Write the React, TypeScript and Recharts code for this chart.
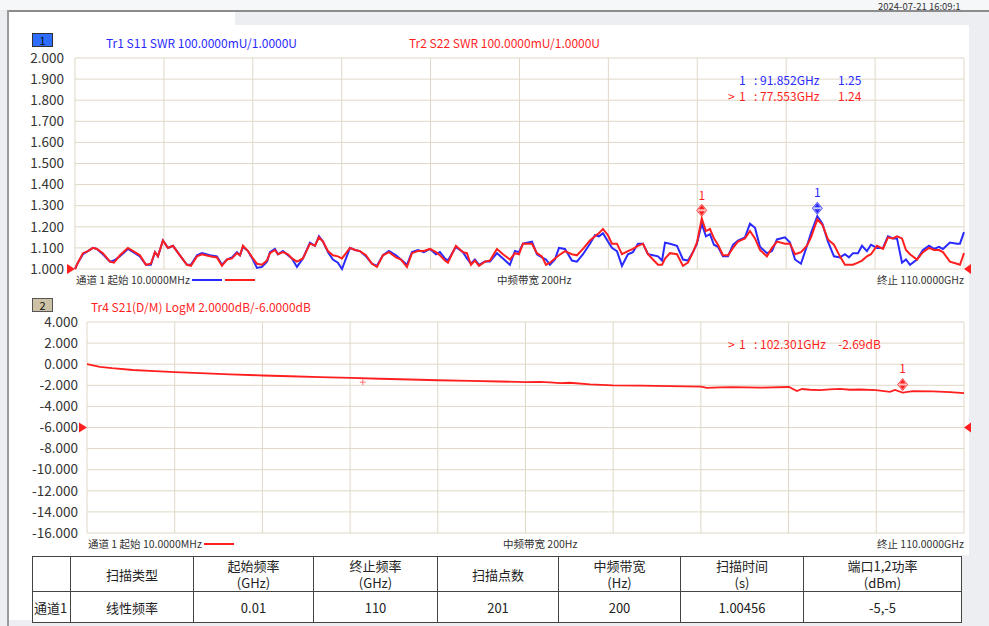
import { LineChart, Line, XAxis, YAxis, CartesianGrid, ReferenceDot } from "recharts";

const FONT = '"Noto Sans CJK SC", "Noto Sans", sans-serif';
const BLUE = "#2a2aff";
const RED = "#ff1f1f";
const GRID = "#e0d8c6";
const TEXT = "#333";

// SWR traces (Tr1 S11 blue, Tr2 S22 red), frequency in GHz
const swrFreq = [
    0.01, 0.37, 0.99, 1.61, 2.23, 2.72, 3.46, 4.33, 4.83, 5.57, 6.56, 7.42, 8.04, 8.79, 9.4, 9.9, 10.27, 10.89, 11.51, 12.13,
    12.99, 13.86, 14.35, 15.1, 15.71, 16.7, 17.57, 18.19, 18.81, 19.43, 20.04, 20.42, 20.79, 21.41, 22.02, 22.52, 23.14, 23.76, 24.13, 24.75,
    25.12, 25.74, 26.36, 26.85, 27.47, 28.21, 29.08, 29.7, 30.19, 30.69, 31.3, 31.92, 32.54, 33.04, 34.03, 34.65, 35.26, 36.01, 36.75, 37.37,
    38.11, 38.85, 39.72, 40.34, 41.08, 41.7, 42.44, 43.18, 43.93, 44.67, 45.16, 45.78, 46.15, 47.14, 48.01, 48.5, 49.0, 49.49, 49.99, 50.73,
    51.35, 52.21, 52.96, 53.82, 54.44, 54.94, 55.43, 56.55, 57.16, 57.78, 58.28, 58.77, 59.39, 59.89, 60.63, 61.49, 62.11, 62.86, 63.72, 64.34,
    64.84, 65.33, 65.95, 66.44, 67.06, 67.68, 68.42, 69.04, 69.66, 70.28, 70.9, 71.52, 72.14, 72.64, 73.01, 73.62, 74.49, 75.23, 75.85, 76.47,
    76.96, 77.553, 78.07, 78.57, 79.06, 79.56, 80.18, 80.8, 81.42, 82.03, 82.9, 83.52, 84.14, 84.76, 85.62, 86.24, 86.86, 87.85, 88.47, 89.09,
    89.83, 90.57, 91.07, 91.852, 92.48, 93.17, 93.91, 94.65, 95.27, 95.77, 96.26, 96.88, 97.38, 97.99, 98.49, 99.23, 99.98, 100.59, 101.21, 101.71,
    102.33, 102.82, 103.32, 104.18, 104.92, 105.67, 106.29, 106.9, 107.4, 108.26, 109.13, 109.5, 110.0,
];
const s22Swr = [
    1.0, 1.03, 1.075, 1.085, 1.1, 1.095, 1.075, 1.035, 1.03, 1.065, 1.1, 1.08, 1.065, 1.02, 1.025, 1.08, 1.06, 1.135, 1.1, 1.11,
    1.065, 1.02, 1.015, 1.06, 1.07, 1.06, 1.055, 1.015, 1.045, 1.05, 1.075, 1.065, 1.11, 1.085, 1.05, 1.025, 1.02, 1.04, 1.075, 1.09,
    1.07, 1.08, 1.07, 1.05, 1.035, 1.05, 1.12, 1.11, 1.15, 1.13, 1.085, 1.065, 1.06, 1.05, 1.1, 1.09, 1.085, 1.065, 1.025, 1.01,
    1.065, 1.08, 1.055, 1.045, 1.01, 1.075, 1.085, 1.085, 1.095, 1.08, 1.065, 1.04, 1.03, 1.11, 1.08, 1.075, 1.02, 1.04, 1.015, 1.035,
    1.04, 1.095, 1.07, 1.045, 1.075, 1.07, 1.12, 1.12, 1.075, 1.06, 1.02, 1.03, 1.05, 1.065, 1.085, 1.07, 1.065, 1.095, 1.135, 1.155,
    1.17, 1.19, 1.16, 1.12, 1.12, 1.07, 1.085, 1.095, 1.11, 1.12, 1.07, 1.045, 1.02, 1.02, 1.05, 1.075, 1.07, 1.015, 1.03, 1.08,
    1.125, 1.24, 1.18, 1.19, 1.145, 1.115, 1.065, 1.065, 1.1, 1.13, 1.145, 1.18, 1.145, 1.09, 1.06, 1.1, 1.13, 1.12, 1.12, 1.07,
    1.08, 1.11, 1.15, 1.235, 1.21, 1.14, 1.115, 1.06, 1.02, 1.02, 1.02, 1.03, 1.04, 1.06, 1.07, 1.11, 1.095, 1.15, 1.145, 1.155,
    1.145, 1.09, 1.07, 1.045, 1.08, 1.1, 1.09, 1.09, 1.08, 1.035, 1.025, 1.02, 1.075,
];
const s11Swr = [
    1.0, 1.03, 1.07, 1.085, 1.1, 1.095, 1.07, 1.035, 1.04, 1.06, 1.095, 1.075, 1.06, 1.02, 1.02, 1.08, 1.06, 1.135, 1.1, 1.11,
    1.065, 1.02, 1.02, 1.065, 1.075, 1.065, 1.06, 1.02, 1.045, 1.055, 1.08, 1.065, 1.105, 1.085, 1.045, 1.005, 1.01, 1.035, 1.08, 1.095,
    1.07, 1.085, 1.065, 1.05, 1.01, 1.05, 1.125, 1.11, 1.155, 1.13, 1.08, 1.045, 1.03, 1.0, 1.1, 1.09, 1.085, 1.06, 1.025, 1.015,
    1.065, 1.085, 1.065, 1.045, 1.02, 1.08, 1.09, 1.08, 1.095, 1.07, 1.08, 1.05, 1.04, 1.105, 1.08, 1.05, 1.025, 1.045, 1.02, 1.035,
    1.035, 1.075, 1.05, 1.02, 1.085, 1.08, 1.12, 1.13, 1.07, 1.055, 1.045, 1.02, 1.045, 1.1, 1.095, 1.04, 1.035, 1.07, 1.12, 1.16,
    1.155, 1.17, 1.13, 1.1, 1.085, 1.015, 1.07, 1.08, 1.12, 1.12, 1.07, 1.065, 1.06, 1.04, 1.125, 1.12, 1.11, 1.045, 1.04, 1.08,
    1.12, 1.215, 1.155, 1.165, 1.115, 1.105, 1.06, 1.06, 1.115, 1.135, 1.15, 1.215, 1.195, 1.105, 1.075, 1.085, 1.14, 1.15, 1.125, 1.045,
    1.025, 1.11, 1.17, 1.25, 1.215, 1.13, 1.06, 1.055, 1.07, 1.055, 1.075, 1.075, 1.11, 1.085, 1.115, 1.1, 1.1, 1.155, 1.145, 1.145,
    1.03, 1.045, 1.02, 1.045, 1.09, 1.11, 1.095, 1.105, 1.095, 1.125, 1.12, 1.12, 1.175,
];

// Tr4 S21 LogM, dB
const s21Freq = [
    0.01, 0.75, 1.63, 3.14, 5.77, 8.53, 11.04, 14.17, 17.94, 22.07, 25.46, 29.22, 33.11, 36.75, 40.51, 44.02, 48.04, 51.8, 55.06, 56.82,
    58.07, 59.33, 60.58, 63.09, 65.97, 69.36, 73.12, 77.01, 77.76, 79.39, 81.02, 84.41, 88.05, 89.05, 89.68, 90.68, 91.94, 93.19, 94.44, 95.7,
    96.95, 98.96, 100.72, 101.34, 102.301, 103.6, 106.11, 108.24, 110.0,
];
const s21Db = [
    0.0, -0.12, -0.25, -0.38, -0.55, -0.66, -0.76, -0.85, -0.96, -1.07, -1.14, -1.22, -1.3, -1.38, -1.45, -1.52, -1.58, -1.64, -1.7, -1.68,
    -1.72, -1.8, -1.76, -1.92, -2.0, -2.03, -2.08, -2.12, -2.24, -2.2, -2.18, -2.22, -2.16, -2.55, -2.35, -2.42, -2.45, -2.38, -2.34, -2.42,
    -2.4, -2.46, -2.62, -2.44, -2.69, -2.55, -2.58, -2.64, -2.74,
];

const freqTicks = [0.01, 11.01, 22.01, 33.01, 44.0, 55.0, 66.0, 77.0, 88.0, 99.0, 110.0];
const swrTicks = [1.0, 1.1, 1.2, 1.3, 1.4, 1.5, 1.6, 1.7, 1.8, 1.9, 2.0];
const dbTicks = [4, 2, 0, -2, -4, -6, -8, -10, -12, -14, -16];

const swrData = swrFreq.map((f, i) => ({ f, s11: s11Swr[i], s22: s22Swr[i] }));
const s21Data = s21Freq.map((f, i) => ({ f, s21: s21Db[i] }));

const headers = ["", "扫描类型", "起始频率\n(GHz)", "终止频率\n(GHz)", "扫描点数", "中频带宽\n(Hz)", "扫描时间\n(s)", "端口1,2功率\n(dBm)"];
const rowValues = ["通道1", "线性频率", "0.01", "110", "201", "200", "1.00456", "-5,-5"];
const colWidths = [38, 123, 120, 124, 121, 122, 123, 158];

const MarkerShape = ({ cx, cy, color, light, labelGap }: any) => (
    <g>
        <path d={`M${cx},${cy - 14} L${cx + 5},${cy - 8} L${cx},${cy - 2} L${cx - 5},${cy - 8} Z`} fill={light} stroke={color} strokeWidth={0.8} />
        <path d={`M${cx},${cy - 13} L${cx + 3},${cy - 9} L${cx - 3},${cy - 9} Z`} fill={color} />
        <path d={`M${cx},${cy - 3} L${cx + 3},${cy - 7} L${cx - 3},${cy - 7} Z`} fill={color} />
        <text x={cx} y={cy - labelGap} textAnchor="middle" fill={color} fontSize={12} fontFamily={FONT}>1</text>
    </g>
);

const LeftArrow = ({ cx, cy }: any) => <path d={`M${cx - 8},${cy - 5} L${cx},${cy} L${cx - 8},${cy + 5} Z`} fill={RED} />;
const RightArrow = ({ cx, cy }: any) => <path d={`M${cx + 7},${cy - 5} L${cx},${cy} L${cx + 7},${cy + 5} Z`} fill={RED} />;

const Abs = ({ x, y, children, style }: any) => (
    <div style={{ position: "absolute", left: x, top: y, whiteSpace: "pre", lineHeight: 1, ...style }}>{children}</div>
);

const tickStyle = { fill: TEXT, fontSize: 13.5, fontFamily: FONT };

export default function App() {
    return (
        <div style={{ position: "absolute", left: 0, top: 0, width: 989, height: 626, overflow: "hidden", background: "#eceef1", fontFamily: FONT }}>
            {/* frame */}
            <div style={{ position: "absolute", left: 0, top: 0, width: 989, height: 10, background: "#f6f7f9" }} />
            <div style={{ position: "absolute", left: 9, top: 11, width: 226, height: 14, background: "#fff" }} />
            <div style={{ position: "absolute", left: 9, top: 25, width: 960, height: 530, background: "#fff" }} />
            <div style={{ position: "absolute", left: 9, top: 555, width: 952, height: 65, background: "#fff" }} />
            <div style={{ position: "absolute", left: 7, top: 10, width: 982, height: 2, background: "#8c8c8c" }} />
            <div style={{ position: "absolute", left: 7, top: 10, width: 2, height: 616, background: "#9a9a9a" }} />
            <Abs x={878} y={1} style={{ fontSize: 9.5, lineHeight: "11px", color: TEXT }}>2024-07-21 16:09:1</Abs>

            {/* window 1 */}
            <div style={{ position: "absolute", left: 32, top: 33, width: 19, height: 12, background: "#2f6dff", border: "1px solid #333", fontSize: 11, color: "#111", textAlign: "center", lineHeight: "12px" }}>1</div>
            <Abs x={106} y={37} style={{ fontSize: 12, color: BLUE }}>Tr1 S11 SWR 100.0000mU/1.0000U</Abs>
            <Abs x={409} y={37} style={{ fontSize: 12, color: RED }}>Tr2 S22 SWR 100.0000mU/1.0000U</Abs>

            <div style={{ position: "absolute", left: 0, top: 0 }}>
                <LineChart width={989} height={290} data={swrData} margin={{ top: 58, right: 25, bottom: 21, left: 0 }}>
                    <CartesianGrid stroke={GRID} strokeWidth={1} />
                    <XAxis dataKey="f" type="number" domain={[0.01, 110]} ticks={freqTicks} hide />
                    <YAxis type="number" domain={[1, 2]} ticks={swrTicks} width={75} axisLine={false} tickLine={false} tickSize={0} tickMargin={11}
                        tick={tickStyle} tickFormatter={(v: number) => v.toFixed(3)} interval={0} />
                    <Line dataKey="s11" stroke={BLUE} strokeWidth={2} dot={false} isAnimationActive={false} />
                    <Line dataKey="s22" stroke={RED} strokeWidth={2} dot={false} isAnimationActive={false} />
                    <ReferenceDot x={0.01} y={1} ifOverflow="visible" shape={(p: any) => <LeftArrow {...p} />} />
                    <ReferenceDot x={110} y={1} ifOverflow="visible" shape={(p: any) => <RightArrow {...p} />} />
                    <ReferenceDot x={77.553} y={1.24} ifOverflow="visible" shape={(p: any) => <MarkerShape {...p} color={RED} light="#ffc2c2" labelGap={18} />} />
                    <ReferenceDot x={91.852} y={1.25} ifOverflow="visible" shape={(p: any) => <MarkerShape {...p} color={BLUE} light="#c2c8ff" labelGap={19} />} />
                </LineChart>
            </div>

            <Abs x={739} y={74} style={{ fontSize: 12, color: BLUE }}>1</Abs>
            <Abs x={754} y={74} style={{ fontSize: 12, color: BLUE }}>: 91.852GHz</Abs>
            <Abs x={838} y={74} style={{ fontSize: 12, color: BLUE }}>1.25</Abs>
            <Abs x={728} y={90} style={{ fontSize: 12, color: RED }}>{">"}</Abs>
            <Abs x={739} y={90} style={{ fontSize: 12, color: RED }}>1</Abs>
            <Abs x={754} y={90} style={{ fontSize: 12, color: RED }}>: 77.553GHz</Abs>
            <Abs x={838} y={90} style={{ fontSize: 12, color: RED }}>1.24</Abs>

            <Abs x={76} y={275} style={{ fontSize: 10.5, color: TEXT }}>通道 1 起始 10.0000MHz</Abs>
            <div style={{ position: "absolute", left: 192, top: 279, width: 30, height: 2, background: BLUE }} />
            <div style={{ position: "absolute", left: 225, top: 279, width: 30, height: 2, background: RED }} />
            <Abs x={497} y={275} style={{ fontSize: 10.5, color: TEXT }}>中频带宽 200Hz</Abs>
            <Abs x={877} y={275} style={{ fontSize: 10.5, color: TEXT }}>终止 110.0000GHz</Abs>

            {/* window 2 */}
            <div style={{ position: "absolute", left: 32, top: 298, width: 19, height: 12, background: "#cdc2a5", border: "1px solid #555", fontSize: 11, color: "#111", textAlign: "center", lineHeight: "12px" }}>2</div>
            <Abs x={91} y={301} style={{ fontSize: 12, color: RED }}>Tr4 S21(D/M) LogM 2.0000dB/-6.0000dB</Abs>

            <div style={{ position: "absolute", left: 0, top: 290 }}>
                <LineChart width={989} height={270} data={s21Data} margin={{ top: 32, right: 25, bottom: 27, left: 0 }}>
                    <CartesianGrid stroke={GRID} strokeWidth={1} />
                    <XAxis dataKey="f" type="number" domain={[0.01, 110]} ticks={freqTicks} hide />
                    <YAxis type="number" domain={[-16, 4]} ticks={dbTicks} width={87} axisLine={false} tickLine={false} tickSize={0} tickMargin={9}
                        tick={tickStyle} tickFormatter={(v: number) => v.toFixed(3)} interval={0} />
                    <Line dataKey="s21" stroke={RED} strokeWidth={1.8} dot={false} isAnimationActive={false} />
                    <ReferenceDot x={0.01} y={-6} ifOverflow="visible" shape={(p: any) => <LeftArrow {...p} />} />
                    <ReferenceDot x={110} y={-6} ifOverflow="visible" shape={(p: any) => <RightArrow {...p} />} />
                    <ReferenceDot x={34.6} y={-1.7} ifOverflow="visible"
                        shape={(p: any) => <path d={`M${p.cx - 3},${p.cy} L${p.cx + 3},${p.cy} M${p.cx},${p.cy - 3} L${p.cx},${p.cy + 3}`} stroke="#ff7070" strokeWidth={1} />} />
                    <ReferenceDot x={102.301} y={-2.69} ifOverflow="visible" shape={(p: any) => <MarkerShape {...p} color={RED} light="#ffc2c2" labelGap={20} />} />
                </LineChart>
            </div>

            <Abs x={728} y={338} style={{ fontSize: 12, color: RED }}>{">"}</Abs>
            <Abs x={739} y={338} style={{ fontSize: 12, color: RED }}>1</Abs>
            <Abs x={754} y={338} style={{ fontSize: 12, color: RED }}>: 102.301GHz</Abs>
            <Abs x={838} y={338} style={{ fontSize: 12, color: RED }}>-2.69dB</Abs>

            <Abs x={88} y={539} style={{ fontSize: 10.5, color: TEXT }}>通道 1 起始 10.0000MHz</Abs>
            <div style={{ position: "absolute", left: 204, top: 543, width: 30, height: 2, background: RED }} />
            <Abs x={503} y={539} style={{ fontSize: 10.5, color: TEXT }}>中频带宽 200Hz</Abs>
            <Abs x={877} y={539} style={{ fontSize: 10.5, color: TEXT }}>终止 110.0000GHz</Abs>

            {/* table */}
            <table style={{ position: "absolute", left: 32, top: 556, borderCollapse: "collapse", tableLayout: "fixed", fontSize: 13, color: "#222", background: "#fff" }}>
                <colgroup>
                    {colWidths.map((w, i) => <col key={i} style={{ width: w }} />)}
                </colgroup>
                <tbody>
                    <tr style={{ height: 31 }}>
                        {headers.map((h, i) => (
                            <td key={i} style={{ border: "1px solid #444", padding: 0, textAlign: "center", whiteSpace: "pre", lineHeight: "17px" }}>{h}</td>
                        ))}
                    </tr>
                    <tr style={{ height: 31 }}>
                        {rowValues.map((v, i) => (
                            <td key={i} style={{ border: "1px solid #444", padding: i === 0 ? "0 0 0 1px" : 0, textAlign: i === 0 ? "left" : "center" }}>{v}</td>
                        ))}
                    </tr>
                </tbody>
            </table>
        </div>
    );
}
